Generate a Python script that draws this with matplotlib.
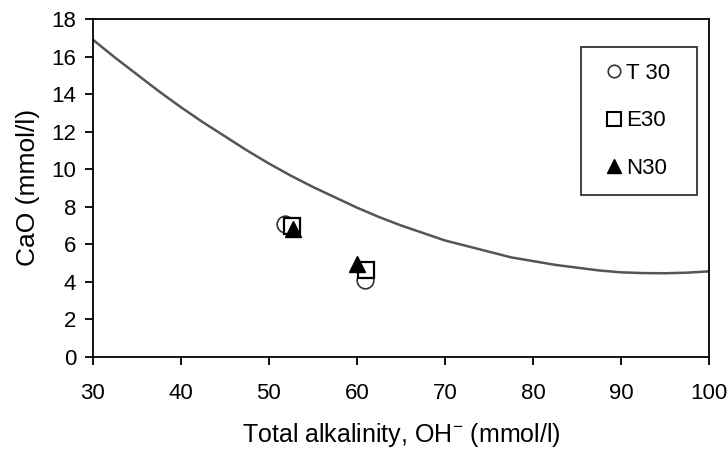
import matplotlib
matplotlib.use("Agg")
import matplotlib.pyplot as plt
from matplotlib.lines import Line2D

plt.rcParams['font.family'] = ['Liberation Sans', 'DejaVu Sans']
plt.rcParams['mathtext.default'] = 'regular'

# Curve (solubility line)
curve_x = [30, 32.5, 35, 37.5, 40, 42.5, 45, 47.5, 50, 52.5, 55, 57.5, 60, 62.5, 65,
           67.5, 70, 72.5, 75, 77.5, 80, 82.5, 85, 87.5, 90, 92.5, 95, 97.5, 100]
curve_y = [16.9, 15.95, 15.05, 14.15, 13.3, 12.5, 11.75, 11.0, 10.3, 9.65, 9.05, 8.5, 7.95,
           7.45, 7.0, 6.6, 6.2, 5.9, 5.6, 5.3, 5.1, 4.9, 4.75, 4.6, 4.5, 4.46, 4.45, 4.48, 4.55]

# Data points
t30_x = [51.8, 60.9]
t30_y = [7.1, 4.1]
e30_x = [52.6, 61.0]
e30_y = [6.95, 4.6]
n30_x = [52.7, 60.0]
n30_y = [6.8, 4.95]

labels = ['T 30', 'E30', 'N30']

xticks = [30, 40, 50, 60, 70, 80, 90, 100]
yticks = [0, 2, 4, 6, 8, 10, 12, 14, 16, 18]

fig = plt.figure(figsize=(7.28, 4.55), dpi=100)
ax = fig.add_axes([0.1277, 0.216, 0.846, 0.742])

ax.plot(curve_x, curve_y, color='#555555', lw=1.8, zorder=2)

ax.plot(t30_x, t30_y, linestyle='none', marker='o', ms=12, mfc='white', mec='#333333', mew=1.2, zorder=3)
ax.plot(e30_x, e30_y, linestyle='none', marker='s', ms=11, mfc='white', mec='black', mew=1.6, zorder=4)
ax.plot(n30_x, n30_y, linestyle='none', marker='^', ms=11, mfc='black', mec='black', zorder=5)

ax.set_xlim(30, 100)
ax.set_ylim(0, 18)
ax.set_xticks(xticks)
ax.set_yticks(yticks)
ax.tick_params(direction='out', length=6, width=1.3, labelsize=16)
ax.tick_params(axis='x', pad=13)
ax.tick_params(axis='y', pad=6)
for s in ax.spines.values():
    s.set_linewidth(1.3)

ax.set_xlabel(r'Total alkalinity, OH$^{-}$ (mmol/l)', fontsize=18, labelpad=12)
ax.set_ylabel('CaO (mmol/l)', fontsize=19, labelpad=8)

handles = [
    Line2D([], [], linestyle='none', marker='o', ms=9, mfc='white', mec='#333333', mew=1.2),
    Line2D([], [], linestyle='none', marker='s', ms=10, mfc='white', mec='black', mew=1.5),
    Line2D([], [], linestyle='none', marker='^', ms=10, mfc='black', mec='black'),
]
leg = ax.legend(handles, labels, loc='upper left', bbox_to_anchor=(0.792, 0.917, 0.1885, 0.0),
                mode='expand',
                fontsize=16, frameon=True, fancybox=False, edgecolor='black',
                handlelength=1.55, handletextpad=-0.2, labelspacing=1.2,
                borderpad=0.7, borderaxespad=0)
leg.get_frame().set_linewidth(1.3)

fig.savefig('out.png', dpi=100)
